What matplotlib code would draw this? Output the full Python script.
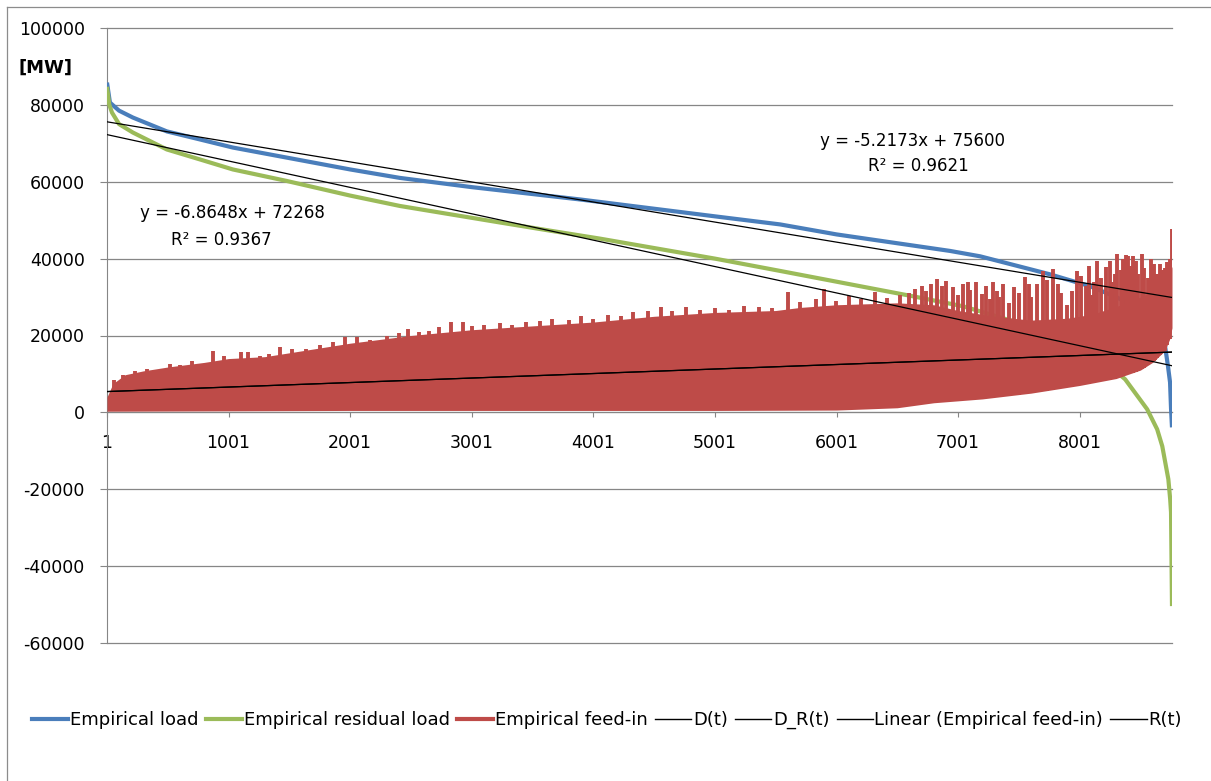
import numpy as np
import matplotlib
matplotlib.use("Agg")
import matplotlib.pyplot as plt
from matplotlib.lines import Line2D

plt.rcParams["font.family"] = ["DejaVu Sans"]
plt.rcParams["axes.unicode_minus"] = False

# --- data --------------------------------------------------------------
load_hours = [1, 25, 100, 214, 493, 766, 1036, 2001, 2410, 3001, 3890, 5001,
              5537, 6001, 6935, 7182, 7758, 8087, 8309, 8500, 8600, 8650,
              8703, 8727, 8744, 8752, 8760]
load_mw = [85800, 80600, 78500, 76700, 73100, 71000, 68900, 63200, 61000,
           58600, 55400, 51000, 48900, 46300, 42000, 40600, 35900, 32800,
           29900, 26500, 23500, 21000, 17200, 12000, 7800, 1000, -3900]

residual_hours = [1, 20, 42, 100, 214, 493, 766, 1036, 1480, 2001, 2410, 3233,
                  3640, 4056, 5001, 5537, 6001, 6630, 7042, 7486, 7800, 8100,
                  8375, 8556, 8638, 8680, 8730, 8745, 8752, 8760]
residual_mw = [84700, 80000, 78000, 75000, 72800, 68400, 65800, 63200, 60200,
               56400, 53700, 49400, 47300, 45200, 40000, 36800, 34000, 30200,
               27600, 23400, 20500, 16000, 8600, 800, -4400, -8800, -17400,
               -22600, -26000, -50400]

# feed-in: lower edge and solid upper edge of the dense band
feedin_floor_hours = [1, 1000, 2000, 3000, 4000, 5000, 6000, 6500, 6800, 7200,
                      7600, 8000, 8300, 8500, 8600, 8700, 8740, 8760]
feedin_floor_mw = [300, 400, 500, 500, 500, 500, 600, 1200, 2500, 3500, 5000,
                   7000, 8800, 11000, 13000, 16000, 19000, 22000]
feedin_top_hours = [1, 50, 150, 300, 500, 800, 1000, 1300, 1500, 1800, 2000,
                    2500, 3000, 3500, 4000, 4500, 5000, 5500, 5700, 6000, 6500,
                    6800, 7000, 7300, 7600, 7900, 8100, 8300, 8500, 8600, 8700,
                    8740, 8760]
feedin_top_mw = [4000, 7500, 9800, 10800, 11800, 13000, 14000, 14500, 15500,
                 17000, 18000, 20000, 21500, 22500, 23500, 25000, 26000, 26500,
                 27300, 28000, 28500, 28000, 26500, 25000, 24000, 24500, 25500,
                 27500, 30000, 31500, 33500, 36000, 38000]
# individual peaks sticking out of the band
feedin_peak_hours = [60, 130, 230, 330, 420, 520, 600, 700, 870, 960, 1100, 1160,
                     1260, 1330, 1420, 1520, 1640, 1750, 1860, 1960, 2060, 2160,
                     2300, 2400, 2480, 2570, 2650, 2730, 2830, 2930, 3000, 3100,
                     3230, 3330, 3450, 3560, 3660, 3800, 3900, 4000, 4120, 4230,
                     4330, 4450, 4560, 4650, 4760, 4880, 5000, 5120, 5240, 5360,
                     5470, 5600, 5700, 5830, 5900, 6000, 6100, 6200, 6320, 6420,
                     6520, 6600, 6650, 6700, 6740, 6780, 6830, 6870, 6900, 6960,
                     7000, 7040, 7080, 7100, 7150, 7200, 7230, 7260, 7290, 7320,
                     7340, 7370, 7420, 7460, 7500, 7550, 7580, 7600, 7650, 7700,
                     7730, 7780, 7820, 7850, 7900, 7940, 7980, 8010, 8050, 8080,
                     8100, 8120, 8140, 8180, 8220, 8250, 8270, 8290, 8310, 8340,
                     8360, 8380, 8400, 8420, 8440, 8460, 8480, 8510, 8530, 8560,
                     8590, 8610, 8620, 8640, 8660, 8680, 8700, 8720, 8740, 8757]
feedin_peak_mw = [8500, 9800, 10800, 11200, 11000, 12500, 12400, 13300, 15900,
                  14600, 15600, 15700, 14600, 15300, 16900, 16400, 16500, 17600,
                  18200, 19500, 19600, 18800, 19900, 20700, 21600, 20800, 21200,
                  22100, 23400, 23500, 22500, 22800, 23300, 22700, 23500, 23700,
                  24200, 24000, 25200, 24200, 25300, 25000, 26100, 26300, 27400,
                  26300, 27300, 26700, 27100, 26600, 27600, 27400, 27200, 31300,
                  28600, 29600, 32000, 29100, 30400, 29500, 31300, 29800,
                  30600, 31000, 32000, 32800, 31500, 33500, 34600, 33000, 34300,
                  32600, 30500, 33300, 34000, 31800, 33800, 30700, 33000, 29500,
                  34000, 31500, 30000, 33300, 28500, 32500, 31000, 35100, 33500,
                  30000, 33300, 36700, 34500, 37200, 33500, 31000, 28000, 31500,
                  36700, 35500, 33000, 38000, 30500, 34000, 39300, 35000, 37700,
                  39500, 34000, 36000, 41100, 37000, 40000, 41000, 40600, 38000,
                  40600, 39500, 36000, 41100, 37500, 35000, 40000, 38500, 35000,
                  36000, 38500, 37000, 37500, 39000, 40000, 47600]

# linear trendlines as labelled in the chart
trend_names = ["D(t)", "D_R(t)", "Linear (Empirical feed-in)", "R(t)"]
trend_slopes = [-5.2173, -6.8648, 1.173, 1.173]
trend_intercepts = [75600, 72268, 5411.2, 5411.2]

series_names = ["Empirical load", "Empirical residual load", "Empirical feed-in"]
series_colors = ["#4A7EBB", "#9BBB59", "#BE4B48"]

x_ticks = [1, 1001, 2001, 3001, 4001, 5001, 6001, 7001, 8001]
y_ticks = [-60000, -40000, -20000, 0, 20000, 40000, 60000, 80000, 100000]
hour_span = [1, 8760]

# --- figure --------------------------------------------------------------
fig = plt.figure(figsize=(12.11, 7.81), dpi=100)
ax = fig.add_axes([107 / 1211, 1 - 643 / 781, 1065 / 1211, 615 / 781])

grid_color = "#868686"

ax.plot(load_hours, load_mw, color=series_colors[0], lw=3.0, zorder=3,
        solid_capstyle="butt")
ax.plot(residual_hours, residual_mw, color=series_colors[1], lw=3.0, zorder=3,
        solid_capstyle="butt")

grid_h = np.arange(1, 8761)
floor = np.interp(grid_h, feedin_floor_hours, feedin_floor_mw)
top = np.interp(grid_h, feedin_top_hours, feedin_top_mw)
ax.fill_between(grid_h, floor, top, color=series_colors[2], lw=0, zorder=4)
peak_floor = np.interp(feedin_peak_hours, feedin_floor_hours, feedin_floor_mw)
ax.vlines(feedin_peak_hours, peak_floor, feedin_peak_mw, color=series_colors[2],
          lw=2.8, zorder=4)

for slope, icpt in zip(trend_slopes, trend_intercepts):
    xs = np.array(hour_span)
    ax.plot(xs, slope * xs + icpt, color="black", lw=0.9, zorder=5)

ax.set_xlim(hour_span)
ax.set_ylim(-60000, 100000)
ax.set_xticks(x_ticks)
ax.set_xticklabels([str(t) for t in x_ticks])
ax.set_yticks(y_ticks)
ax.set_yticklabels([str(t) for t in y_ticks])
ax.yaxis.grid(True, color=grid_color, lw=0.9)
ax.set_axisbelow(True)
for gl in ax.get_ygridlines():
    gl.set_clip_on(False)

for side in ("top", "right"):
    ax.spines[side].set_visible(False)
ax.spines["bottom"].set_position(("data", 0))
ax.spines["bottom"].set_color(grid_color)
ax.spines["left"].set_color(grid_color)
ax.spines["bottom"].set_zorder(2)
ax.tick_params(axis="x", direction="out", length=3.6, color=grid_color,
               labelsize=12.5, pad=12)
ax.tick_params(axis="y", direction="out", length=5, color=grid_color,
               labelsize=12.5, pad=11)

# trendline equations
ax.text(0.756, 0.816, "y = -5.2173x + 75600", transform=ax.transAxes,
        ha="center", va="center", fontsize=12)
ax.text(0.762, 0.775, "R² = 0.9621", transform=ax.transAxes,
        ha="center", va="center", fontsize=12)
ax.text(0.118, 0.699, "y = -6.8648x + 72268", transform=ax.transAxes,
        ha="center", va="center", fontsize=12)
ax.text(0.107, 0.655, "R² = 0.9367", transform=ax.transAxes,
        ha="center", va="center", fontsize=12)
ax.text(0.692, 0.512, "y = 1.173x + 5411.2", transform=ax.transAxes,
        ha="center", va="center", fontsize=12)
ax.text(0.691, 0.465, "R² = 0.1695", transform=ax.transAxes,
        ha="center", va="center", fontsize=12)

fig.text(45 / 1211, 1 - 68 / 781, "[MW]", ha="center", va="center",
         fontsize=13, fontweight="bold")

# chart area frame (only left and top edges fall inside the image)
frame_color = "#8c8c8c"
fig.add_artist(Line2D([7 / 1211, 7 / 1211], [0, 1 - 7 / 781],
                      transform=fig.transFigure, color=frame_color, lw=0.9))
fig.add_artist(Line2D([7 / 1211, 1], [1 - 7 / 781, 1 - 7 / 781],
                      transform=fig.transFigure, color=frame_color, lw=0.9))

handles = [Line2D([], [], color=c, lw=3) for c in series_colors]
handles += [Line2D([], [], color="black", lw=1) for _ in trend_names]
fig.legend(handles, series_names + trend_names, loc="center",
           bbox_to_anchor=(607 / 1211, 1 - 720 / 781), ncol=7, frameon=False,
           fontsize=13, handlelength=2.0, handletextpad=0.1,
           columnspacing=0.4, borderaxespad=0)

fig.savefig("out.png", dpi=100)
